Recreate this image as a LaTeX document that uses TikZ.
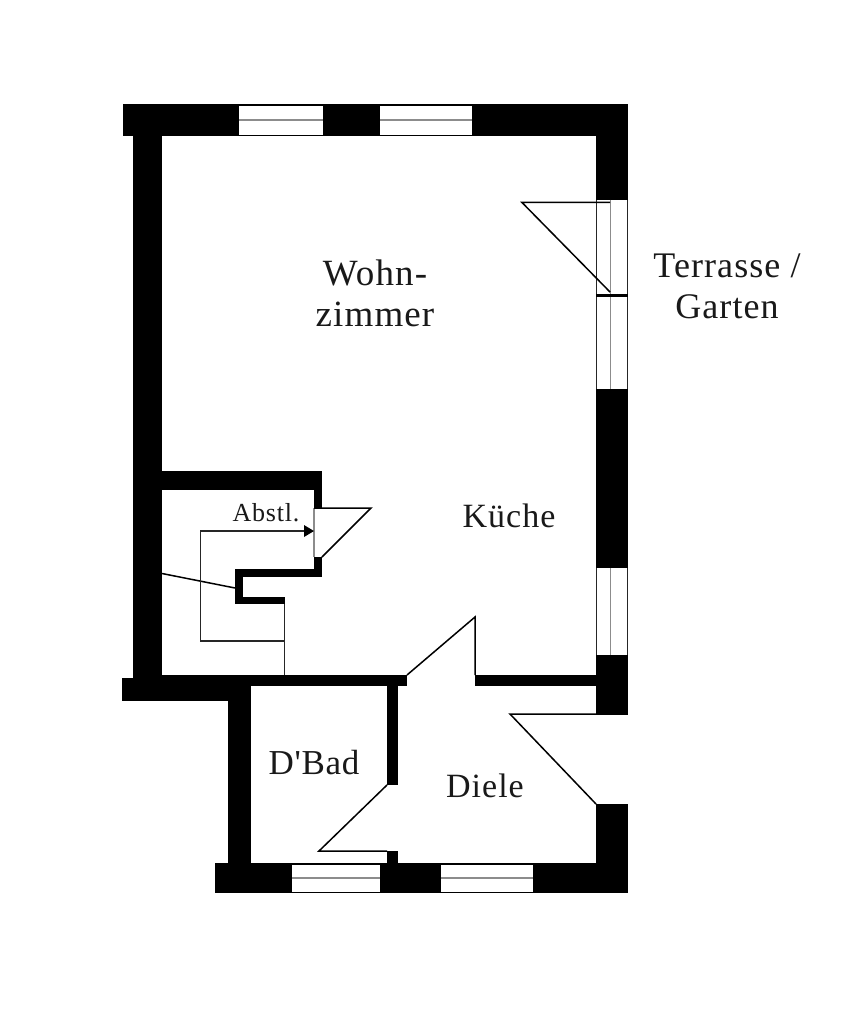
\documentclass[tikz,border=0pt]{standalone}
\usepackage{fontspec}
\setmainfont{Liberation Serif}[LetterSpace=3]
\newfontfamily\straightfam{Liberation Serif}[LetterSpace=2]
\usetikzlibrary{arrows.meta}
\tikzset{
  wall/.style={fill=black,draw=none},
  pane/.style={fill=white,draw=none},
  mull/.style={draw=black!45,line width=1.1pt},
  thin/.style={draw=black!85,line width=1.2pt},
  door/.style={draw=black,line width=1.5pt,line join=miter},
  room/.style={inner sep=0pt,align=center,text=black!90},
}
\begin{document}
\begin{tikzpicture}[x=1pt,y=-1pt]
\useasboundingbox (0,0) rectangle (849,1024);
\fill[white] (0,0) rectangle (849,1024);
% outer walls
\fill[wall] (123,104) rectangle (628,136);
\fill[wall] (133,136) rectangle (162,680);
\fill[wall] (596,136) rectangle (628,715);
\fill[wall] (122,678) rectangle (228,701);
\fill[wall] (162,675) rectangle (407,686);
\fill[wall] (228,686) rectangle (251,863);
\fill[wall] (215,863) rectangle (628,893);
\fill[wall] (596,804) rectangle (628,863);
\fill[wall] (475,675) rectangle (596,686);
% inner walls
\fill[wall] (162,471) rectangle (322,490);
\fill[wall] (314,490) rectangle (322,577);
\fill[wall] (235,569) rectangle (322,577);
\fill[wall] (235,569) rectangle (243,604);
\fill[wall] (235,597) rectangle (285,604);
\fill[wall] (387,686) rectangle (398,785);
\fill[wall] (387,851) rectangle (398,863);
% opening of the store-room door
\fill[pane] (313,508) rectangle (323,557);
\draw[mull] (314,508) -- (314,557);
% top windows
\fill[pane] (239,106) rectangle (323,135);
\draw[mull] (239,120) -- (323,120);
\fill[pane] (380,106) rectangle (472,135);
\draw[mull] (380,120) -- (472,120);
% right windows
\fill[pane] (597,200) rectangle (627,389);
\draw[thin] (596.5,200) -- (596.5,389);
\draw[thin] (627.5,200) -- (627.5,389);
\draw[mull] (610.5,200) -- (610.5,389);
\fill[wall] (596,293.5) rectangle (628,297);
\fill[pane] (597,568) rectangle (627,655);
\draw[thin] (596.5,568) -- (596.5,655);
\draw[thin] (627.5,568) -- (627.5,655);
\draw[mull] (610.5,568) -- (610.5,655);
% bottom windows
\fill[pane] (292,865) rectangle (380,892);
\draw[mull] (292,878) -- (380,878);
\fill[pane] (441,865) rectangle (533,892);
\draw[mull] (441,878) -- (533,878);
% doors
\draw[door] (610,292) -- (522,202.5) -- (610,202.5);
\draw[door] (314,508) -- (371,508) -- (322,557);
\draw[door] (407,675) -- (475,617) -- (475,675);
\draw[door] (387,785) -- (319,851) -- (387,851);
\draw[door] (596,714) -- (510,714) -- (596,804);
% stairs
\draw[door] (162,573.5) -- (235,588);
\draw[thin] (284.5,604) -- (284.5,675);
\draw[thin,line join=miter] (284,641) -- (200.5,641) -- (200.5,531) -- (304,531);
\fill[black] (314,531) -- (304,525) -- (304,537) -- cycle;
% labels
\node[room,font=\fontsize{37}{41}\selectfont] (wohn) at (375,293) {Wohn-\\zimmer};
\node[room,font=\fontsize{36}{41}\selectfont] (terr) at (727,286) {Terrasse /\\Garten};
\node[room,font=\fontsize{34}{40}\selectfont] (kue) at (509,516) {Küche};
\node[room,font=\fontsize{35}{38}\selectfont\straightfam] (bad) at (314,763) {D'Bad};
\node[room,font=\fontsize{34}{38}\selectfont] (die) at (485,786) {Diele};
\node[room,font=\fontsize{26}{30}\selectfont] (abs) at (266,513) {Abstl.};
\end{tikzpicture}
\end{document}
